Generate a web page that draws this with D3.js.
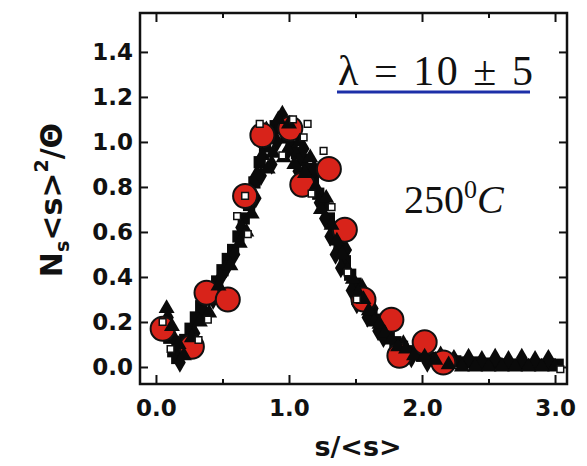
<!DOCTYPE html>
<html>
<head>
<meta charset="utf-8">
<script src="https://cdn.jsdelivr.net/npm/d3@7"></script>
<style>
  body { margin: 0; background: #fff; }
  svg { display: block; }
  .axis text { font-family: "DejaVu Sans", sans-serif; font-weight: bold; font-size: 23px; fill: #111; }
  .axis path { display: none; }
  .axis line { stroke: #111; stroke-width: 2; }
</style>
</head>
<body>
<svg width="587" height="466"></svg>
<script>
// red circles
const redX = [0.05, 0.27, 0.38, 0.54, 0.67, 0.80, 1.01, 1.10, 1.30, 1.42, 1.56, 1.77, 1.83, 2.02, 2.16];
const redY = [0.17, 0.09, 0.33, 0.30, 0.76, 1.03, 1.06, 0.81, 0.88, 0.61, 0.30, 0.21, 0.05, 0.11, 0.02];

// filled squares
const sqX = [0.06, 0.10, 0.13, 0.16, 0.19, 0.22, 0.26, 0.30, 0.34, 0.38, 0.42, 0.46, 0.50, 0.54, 0.58,
  0.62, 0.66, 0.70, 0.74, 0.78, 0.82, 0.86, 0.90, 0.94, 0.98, 1.02, 1.06, 1.10, 1.14, 1.18, 1.22,
  1.26, 1.30, 1.34, 1.38, 1.42, 1.46, 1.50, 1.54, 1.58, 1.62, 1.66, 1.70, 1.75, 1.80, 1.85, 1.90,
  1.95, 2.00, 2.06, 2.12, 2.18, 2.25, 2.32, 2.40, 2.48, 2.56, 2.64, 2.72, 2.80, 2.88, 2.96, 3.02];
const sqY = [0.19, 0.13, 0.07, 0.04, 0.08, 0.12, 0.17, 0.22, 0.27, 0.30, 0.34, 0.38, 0.43, 0.48, 0.52,
  0.58, 0.66, 0.72, 0.82, 0.91, 0.98, 1.03, 1.07, 1.06, 1.02, 0.98, 0.95, 0.92, 0.88, 0.83, 0.77,
  0.72, 0.66, 0.60, 0.53, 0.47, 0.41, 0.37, 0.32, 0.28, 0.24, 0.21, 0.17, 0.14, 0.11, 0.09, 0.07,
  0.06, 0.05, 0.04, 0.035, 0.03, 0.025, 0.02, 0.02, 0.015, 0.015, 0.012, 0.01, 0.01, 0.01, 0.01, 0.01];

// filled diamonds
const diaX = [0.09, 0.14, 0.18, 0.23, 0.29, 0.36, 0.43, 0.49, 0.53, 0.59, 0.64, 0.71, 0.75, 0.79, 0.83,
  0.87, 0.91, 0.95, 0.99, 1.03, 1.07, 1.11, 1.15, 1.19, 1.23, 1.27, 1.31, 1.35, 1.39, 1.43, 1.47,
  1.51, 1.55, 1.59, 1.63, 1.67, 1.71, 1.76, 1.81, 1.86, 1.92, 1.98, 2.04, 2.14, 2.24, 2.35, 2.45,
  2.55, 2.65, 2.75, 2.85, 2.95];
const diaY = [0.22, 0.12, 0.02, 0.09, 0.15, 0.25, 0.30, 0.40, 0.44, 0.50, 0.62, 0.78, 0.75, 0.85, 1.05,
  0.90, 1.00, 1.12, 0.96, 1.05, 0.87, 0.97, 0.80, 0.88, 0.73, 0.66, 0.58, 0.50, 0.44, 0.52, 0.34,
  0.28, 0.35, 0.22, 0.26, 0.16, 0.13, 0.17, 0.07, 0.10, 0.04, 0.07, 0.02, 0.05, 0.035, 0.04, 0.03,
  0.04, 0.03, 0.04, 0.03, 0.035];

// filled triangles
const triX = [0.08, 0.12, 0.17, 0.21, 0.27, 0.33, 0.40, 0.47, 0.56, 0.63, 0.68, 0.72, 0.76, 0.80, 0.84,
  0.88, 0.92, 0.96, 1.00, 1.04, 1.08, 1.12, 1.16, 1.20, 1.24, 1.28, 1.32, 1.36, 1.40, 1.44, 1.48,
  1.52, 1.56, 1.60, 1.64, 1.68, 1.72, 1.77, 1.82, 1.88, 1.94, 2.02, 2.10, 2.20, 2.30, 2.40, 2.50,
  2.60, 2.70, 2.80, 2.90, 3.00];
const triY = [0.26, 0.18, 0.10, 0.05, 0.13, 0.20, 0.24, 0.36, 0.45, 0.55, 0.60, 0.68, 0.86, 0.94, 0.88,
  0.95, 1.10, 0.93, 1.08, 0.90, 1.00, 0.86, 0.93, 0.80, 0.70, 0.75, 0.63, 0.56, 0.50, 0.43, 0.39,
  0.33, 0.30, 0.25, 0.20, 0.19, 0.15, 0.12, 0.09, 0.08, 0.05, 0.045, 0.03, 0.01, 0.0, 0.0, 0.0,
  0.0, 0.0, 0.0, 0.0, 0.0];

// open squares
const openX = [0.05, 0.11, 0.32, 0.39, 0.61, 0.67, 0.69, 0.78, 0.95, 1.03, 1.11, 1.14, 1.17, 1.26, 1.32, 1.44, 1.51, 3.04];
const openY = [0.20, 0.08, 0.12, 0.21, 0.67, 0.76, 0.59, 1.08, 0.94, 1.10, 1.02, 1.08, 0.77, 0.96, 0.71, 0.42, 0.30, -0.01];

const xTicks = [0, 1, 2, 3];
const xMinor = [0.5, 1.5, 2.5];
const yTicks = [0, 0.2, 0.4, 0.6, 0.8, 1.0, 1.2, 1.4];

const svg = d3.select("svg");

const x = d3.scaleLinear().domain([-0.12, 3.09]).range([140, 567]);
const y = d3.scaleLinear().domain([-0.0756, 1.573]).range([384, 13]);

const zip = (a, b) => a.map((v, i) => [v, b[i]]);

// axes
svg.append("g").attr("class", "axis")
  .attr("transform", "translate(" + x.range()[0] + ",0)")
  .call(d3.axisLeft(y).tickValues(yTicks).tickSize(-8).tickPadding(7).tickFormat(d3.format(".1f")));
svg.append("g").attr("class", "axis")
  .attr("transform", "translate(" + x.range()[1] + ",0)")
  .call(d3.axisRight(y).tickValues(yTicks).tickSize(-8).tickFormat(""));
svg.append("g").attr("class", "axis")
  .attr("transform", "translate(0," + y.range()[0] + ")")
  .call(d3.axisBottom(x).tickValues(xTicks).tickSize(-9).tickPadding(16).tickFormat(d3.format(".1f")));
svg.append("g").attr("class", "axis")
  .attr("transform", "translate(0," + y.range()[0] + ")")
  .call(d3.axisBottom(x).tickValues(xMinor).tickSize(-5).tickFormat(""));
svg.append("g").attr("class", "axis")
  .attr("transform", "translate(0," + y.range()[1] + ")")
  .call(d3.axisTop(x).tickValues(xTicks).tickSize(-9).tickFormat(""));
svg.append("g").attr("class", "axis")
  .attr("transform", "translate(0," + y.range()[1] + ")")
  .call(d3.axisTop(x).tickValues(xMinor).tickSize(-5).tickFormat(""));

svg.append("rect")
  .attr("x", x.range()[0]).attr("y", y.range()[1])
  .attr("width", x.range()[1] - x.range()[0])
  .attr("height", y.range()[0] - y.range()[1])
  .attr("fill", "none").attr("stroke", "#111").attr("stroke-width", 2.5);

// markers
const marks = svg.append("g");

function symbols(cls, data, type, size) {
  return marks.selectAll("." + cls).data(data).enter()
    .append("path").attr("class", cls)
    .attr("transform", d => "translate(" + x(d[0]) + "," + y(d[1]) + ")")
    .attr("d", d3.symbol().type(type).size(size))
    .attr("fill", "#0a0a0a");
}

symbols("sq", zip(sqX, sqY), d3.symbolSquare, 150);
symbols("dia", zip(diaX, diaY), d3.symbolDiamond, 120);

marks.selectAll(".red").data(zip(redX, redY)).enter()
  .append("circle").attr("class", "red")
  .attr("cx", d => x(d[0])).attr("cy", d => y(d[1]))
  .attr("r", 12)
  .attr("fill", "#d8231a").attr("stroke", "#111").attr("stroke-width", 2);

symbols("tri", zip(triX, triY), d3.symbolTriangle, 110);

marks.selectAll(".open").data(zip(openX, openY)).enter()
  .append("path").attr("class", "open")
  .attr("transform", d => "translate(" + x(d[0]) + "," + y(d[1]) + ")")
  .attr("d", d3.symbol().type(d3.symbolSquare).size(45))
  .attr("fill", "#fff").attr("stroke", "#111").attr("stroke-width", 1.5);

// labels
svg.append("text")
  .attr("x", 358).attr("y", 456)
  .attr("text-anchor", "middle")
  .style("font-family", "DejaVu Sans, sans-serif").style("font-weight", "bold").style("font-size", "27px")
  .attr("fill", "#111")
  .text("s/<s>");

const yl = svg.append("text")
  .attr("transform", "translate(62,200) rotate(-90)")
  .attr("text-anchor", "middle")
  .style("font-family", "DejaVu Sans, sans-serif").style("font-weight", "bold").style("font-size", "30px")
  .attr("fill", "#111");
yl.append("tspan").text("N");
yl.append("tspan").attr("dy", 7).style("font-size", "19px").text("s");
yl.append("tspan").attr("dy", -7).text("<s>");
yl.append("tspan").attr("dy", -14).style("font-size", "19px").text("2");
yl.append("tspan").attr("dy", 14).text("/Θ");

svg.append("text")
  .attr("x", 338).attr("y", 85)
  .attr("textLength", 195).attr("lengthAdjust", "spacing")
  .style("font-family", "Liberation Serif, serif").style("font-size", "42px")
  .attr("fill", "#111")
  .text("λ = 10 ± 5");

svg.append("line")
  .attr("x1", 337).attr("x2", 530).attr("y1", 92).attr("y2", 92)
  .attr("stroke", "#1c2fa8").attr("stroke-width", 3);

const tc = svg.append("text")
  .attr("x", 404).attr("y", 213)
  .style("font-family", "Liberation Serif, serif").style("font-size", "40px")
  .attr("fill", "#111");
tc.append("tspan").text("250");
tc.append("tspan").attr("dy", -15).style("font-size", "26px").text("0");
tc.append("tspan").attr("dy", 15).style("font-style", "italic").text("C");
</script>
</body>
</html>
